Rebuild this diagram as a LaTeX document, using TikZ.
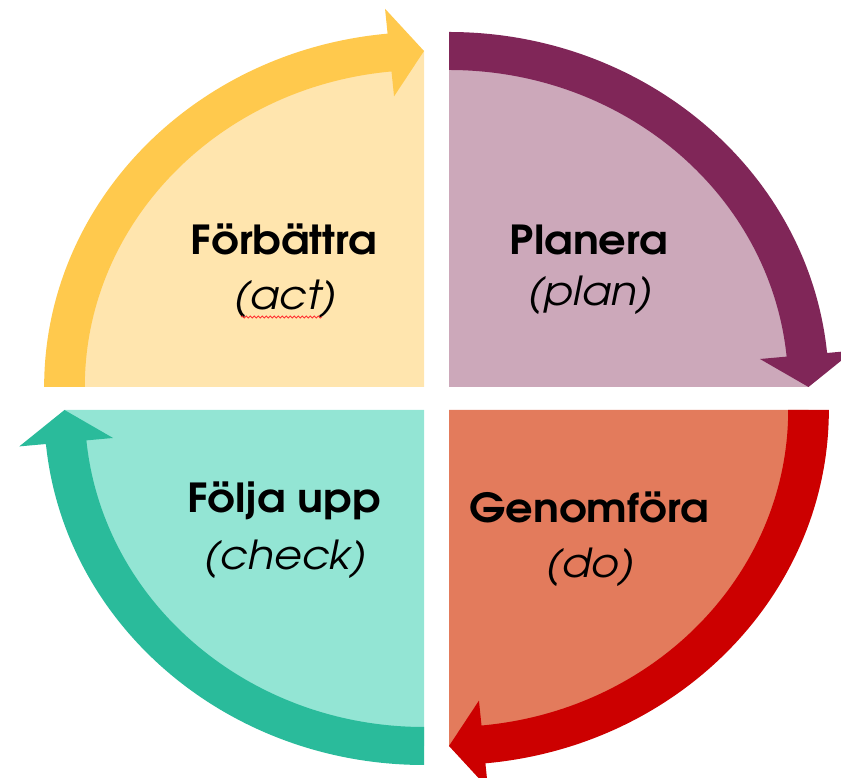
\documentclass[tikz,border=0pt]{standalone}
\usepackage{fontspec}
\newfontfamily\phasefont{texgyreadventor-bold.otf}[FakeStretch=1.08]
\newfontfamily\englishfont{texgyreadventor-regular.otf}[FakeStretch=1.07,FakeSlant=0.2]
\usepackage{tikz}
\usetikzlibrary{positioning,decorations.pathmorphing}

\definecolor{actdark}{RGB}{255,201,77}
\definecolor{actlight}{RGB}{255,229,174}
\definecolor{plandark}{RGB}{128,38,88}
\definecolor{planlight}{RGB}{204,168,186}
\definecolor{checkdark}{RGB}{42,187,155}
\definecolor{checklight}{RGB}{147,229,212}
\definecolor{dodark}{RGB}{204,0,0}
\definecolor{dolight}{RGB}{227,123,92}

\tikzset{
  phase/.style={font=\fontsize{40}{48}\phasefont,text=black,inner sep=0pt,anchor=base},
  english/.style={font=\fontsize{40}{48}\englishfont,text=black,inner sep=0pt},
  squiggle/.style={draw=red!80,line width=0.8pt,decorate,decoration={snake,amplitude=1pt,segment length=4pt}}
}

\begin{document}
\begin{tikzpicture}[x=1pt,y=1pt]
  \useasboundingbox (0,0) rectangle (841,778);

  % quarters: corner, start angle, arrow colour, fill colour
  \foreach \cx/\cy/\ang/\dk/\lt in {449/391/90/plandark/planlight,
                                    424/391/180/actdark/actlight,
                                    424/368/270/checkdark/checklight,
                                    449/368/360/dodark/dolight}{
    \begin{scope}[shift={(\cx,\cy)},xscale=1.07]
      \fill[\lt] (0,0) -- (\ang:336pt) arc[start angle=\ang,end angle=\ang-90,radius=336pt] -- cycle;
      \fill[\dk] (\ang:355pt) arc[start angle=\ang,end angle=\ang-84.5,radius=355pt]
        -- (\ang-84.5:380pt) -- (\ang-90:336pt) -- (\ang-84.5:292pt) -- (\ang-84.5:317pt)
        arc[start angle=\ang-84.5,end angle=\ang,radius=317pt] -- cycle;
    \end{scope}
  }

  % act
  \node[phase] (act) at (284,523) {Förbättra};
  \node[english,below=55pt of act.base,anchor=base] (actsub) {(act)};
  \draw[squiggle] (241,461) -- (322,461);

  % plan
  \node[phase] (plan) at (589,523) {Planera};
  \node[english,below=51pt of plan.base,anchor=base] (plansub) {(plan)};

  % check
  \node[phase] (check) at (284,265) {Följa upp};
  \node[english,below=57pt of check.base,anchor=base] (checksub) {(check)};

  % do
  \node[phase] (do) at (589,255) {Genomföra};
  \node[english,below=55pt of do.base,anchor=base] (dosub) {(do)};
\end{tikzpicture}
\end{document}
